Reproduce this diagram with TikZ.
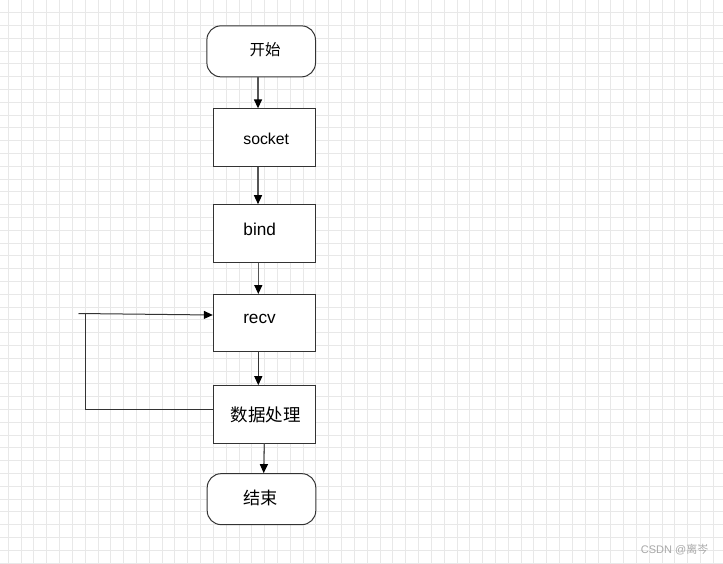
\documentclass[tikz,border=0pt]{standalone}
\usepackage{fontspec}
\setmainfont{Liberation Sans}
\newfontfamily\cjk{Noto Sans CJK SC}
\usetikzlibrary{arrows.meta}
\definecolor{gridc}{HTML}{E8E8E8}
\definecolor{linec}{HTML}{333333}
\definecolor{arrc}{HTML}{555555}
\definecolor{wmc}{HTML}{A8A8A8}
\tikzset{
  boxbase/.style={draw=linec, line width=1pt, fill=white, inner sep=0pt},
  procbox/.style={boxbase, minimum width=102.4pt, minimum height=57.3pt},
  termbox/.style={boxbase, rounded corners=14pt, minimum width=108.6pt, minimum height=51pt},
  txt/.style={inner sep=0pt, text=black},
  tipstyle/.style={-{Triangle[length=9pt,width=8pt,color=black]}},
  flow/.style={draw=arrc, line width=1.3pt, tipstyle},
  loopline/.style={draw=linec, line width=1pt},
}
\begin{document}
\begin{tikzpicture}[x=1pt,y=-1pt]
\useasboundingbox (0,0) rectangle (723,563);
\fill[white] (0,0) rectangle (723,563);
% grid
\foreach \k in {0,...,55} {
  \draw[gridc, line width=1pt] ({8.3+12.82*\k},0) -- ({8.3+12.82*\k},563);
}
\foreach \k in {0,...,43} {
  \draw[gridc, line width=1pt] (0,{12.7+12.8*\k}) -- (723,{12.7+12.8*\k});
}
% nodes
\node[termbox] (start) at (261.2,51.35) {};
\node[procbox] (socket) at (264.5,137.5) {};
\node[procbox] (bind) at (264.5,233.35) {};
\node[procbox] (recv) at (264.5,323.15) {};
\node[procbox] (proc) at (264.5,414.35) {};
\node[termbox] (end) at (261.5,499.15) {};
% texts
\node[txt, font=\cjk\fontsize{15.5}{18}\selectfont] at (265,49.5) {开始};
\node[txt, font=\fontsize{15.8}{18}\selectfont] at (266.2,139.3) {socket};
\node[txt, font=\fontsize{17.2}{20}\selectfont] at (259.7,229) {bind};
\node[txt, font=\fontsize{17.2}{20}\selectfont] at (259.5,319.3) {recv};
\node[txt, font=\cjk\fontsize{17.5}{20}\selectfont] at (265.7,414.5) {数据处理};
\node[txt, font=\cjk\fontsize{17.2}{20}\selectfont] at (260.5,497.5) {结束};
% connectors
\draw[flow] (start.south -| 258,0) -- (socket.north -| 258,0);
\draw[flow] (socket.south -| 258,0) -- (bind.north -| 258,0);
\draw[flow] (bind.south -| 258.3,0) -- (recv.north -| 258.3,0);
\draw[flow, draw=linec, line width=1pt] (recv.south -| 258.3,0) -- (proc.north -| 258.3,0);
\draw[flow] (proc.south -| 264.3,0) -- (end.north -| 263.7,0);
% loop back
\coordinate (lpstart) at (78.5,313.5);
\coordinate (lpcorner) at (85,313.6);
\draw[loopline] (proc.west |- 0,409) -| (lpcorner);
\draw[loopline, tipstyle] (lpstart) -- (recv.west |- 0,315);
% watermark
\node[anchor=west, inner sep=0pt, text=wmc, font=\fontsize{11}{13}\selectfont] at (640.7,549.3) {CSDN @{\cjk 离岑}};
\end{tikzpicture}
\end{document}
